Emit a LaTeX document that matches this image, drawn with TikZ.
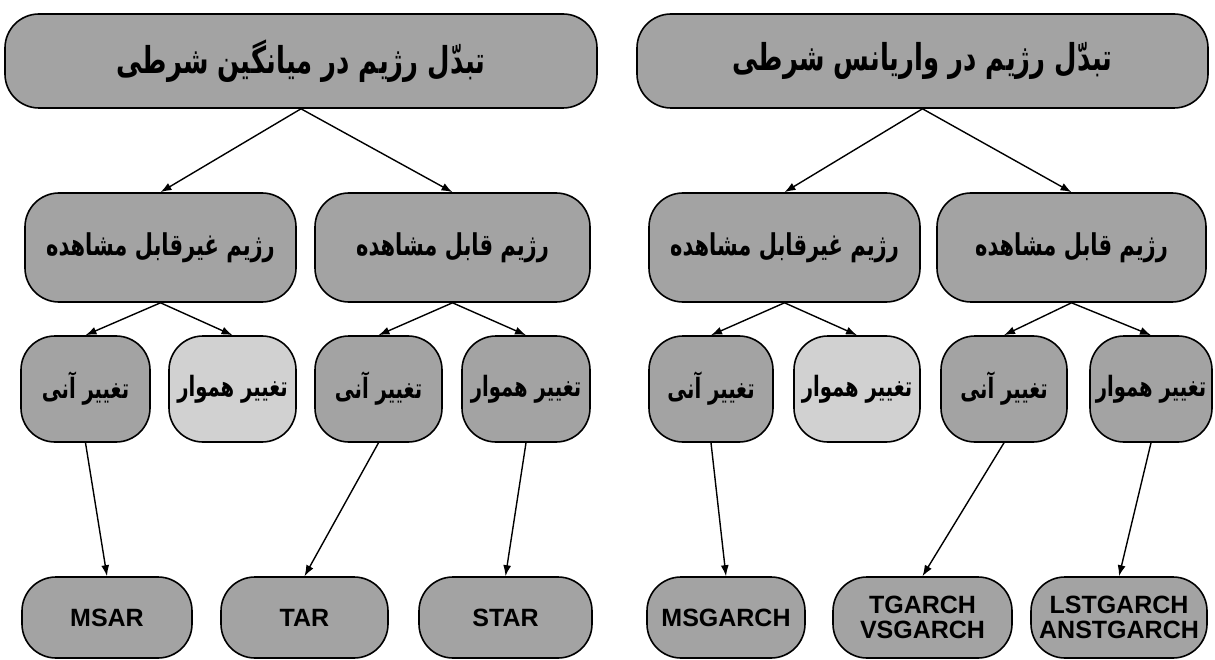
\documentclass[tikz,border=0pt]{standalone}
\usepackage{fontspec}
\setmainfont{Liberation Sans}
\newfontfamily\fa[Script=Arabic,FakeStretch=0.7]{DejaVu Sans}
\TeXXeTstate=1
\usetikzlibrary{arrows.meta}
\definecolor{boxgray}{gray}{0.64}
\definecolor{boxlight}{gray}{0.82}
\tikzset{
  box/.style={draw=black, line width=1.6pt, fill=boxgray, rounded corners=34pt, inner sep=0pt, align=center},
  topfont/.style={font=\fa\bfseries\fontsize{37}{42}\selectfont},
  midfont/.style={font=\fa\bfseries\fontsize{30}{35}\selectfont},
  lowfont/.style={font=\fa\bfseries\fontsize{28}{32}\selectfont},
  leaffont/.style={font=\bfseries\fontsize{25}{27}\selectfont},
  lvlone/.style={box, topfont, minimum height=94pt},
  lvltwo/.style={box, midfont, minimum height=109pt},
  lvlthree/.style={box, lowfont, minimum height=106pt},
  lvlthreelight/.style={lvlthree, fill=boxlight},
  leaf/.style={box, leaffont, minimum height=81pt},
  arr/.style={line width=1.4pt, -{Latex[length=11pt,width=8pt]}}
}
\begin{document}
\begin{tikzpicture}[x=1pt,y=-1pt]
\useasboundingbox (0,0) rectangle (1215,660);
% left tree
\node[lvlone, minimum width=592pt] (L0) at (301,61) {\beginR تبدّل رژیم در میانگین شرطی\endR};
\node[lvltwo, minimum width=271pt] (LA) at (160.5,247.5) {\beginR رژیم غیرقابل مشاهده\endR};
\node[lvltwo, minimum width=275pt] (LB) at (452.5,247.5) {\beginR رژیم قابل مشاهده\endR};
\node[lvlthree, minimum width=129pt] (LA1) at (85.5,389) {\beginR تغییر آنی\endR};
\node[lvlthreelight, minimum width=127pt] (LA2) at (232.5,389) {\beginR تغییر هموار\endR};
\node[lvlthree, minimum width=127pt] (LB1) at (378.5,389) {\beginR تغییر آنی\endR};
\node[lvlthree, minimum width=128pt] (LB2) at (526,389) {\beginR تغییر هموار\endR};
\node[leaf, minimum width=170pt] (MSAR) at (107,617.5) {MSAR};
\node[leaf, minimum width=167pt] (TAR) at (304.5,617.5) {TAR};
\node[leaf, minimum width=173pt] (STAR) at (505.5,617.5) {STAR};
% right tree
\node[lvlone, minimum width=571pt] (R0) at (922.5,61) {\beginR تبدّل رژیم در واریانس شرطی\endR};
\node[lvltwo, minimum width=271pt] (RA) at (784.5,247.5) {\beginR رژیم غیرقابل مشاهده\endR};
\node[lvltwo, minimum width=269pt] (RB) at (1071.5,247.5) {\beginR رژیم قابل مشاهده\endR};
\node[lvlthree, minimum width=124pt] (RA1) at (711,389) {\beginR تغییر آنی\endR};
\node[lvlthreelight, minimum width=126pt] (RA2) at (857,389) {\beginR تغییر هموار\endR};
\node[lvlthree, minimum width=126pt] (RB1) at (1004,389) {\beginR تغییر آنی\endR};
\node[lvlthree, minimum width=122pt] (RB2) at (1151,389) {\beginR تغییر هموار\endR};
\node[leaf, minimum width=158pt] (MSG) at (726,617.5) {MSGARCH};
\node[leaf, minimum width=179pt] (TG) at (922.5,617.5) {TGARCH\\[-2pt]VSGARCH};
\node[leaf, minimum width=176pt] (LST) at (1119,617.5) {LSTGARCH\\[-2pt]ANSTGARCH};
% connectors
\foreach \p/\c in {L0/LA, L0/LB, LA/LA1, LA/LA2, LB/LB1, LB/LB2, LA1/MSAR, LB1/TAR, LB2/STAR,
                   R0/RA, R0/RB, RA/RA1, RA/RA2, RB/RB1, RB/RB2, RA1/MSG, RB1/TG, RB2/LST}
  \draw[arr] (\p.south) -- (\c.north);
\end{tikzpicture}
\end{document}
